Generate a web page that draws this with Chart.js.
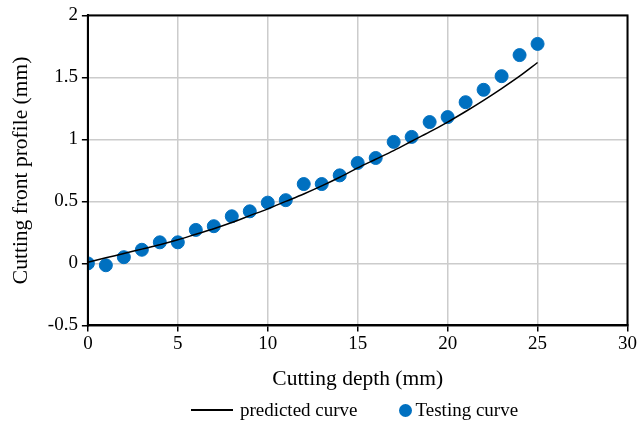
<!DOCTYPE html>
<html>
<head>
<meta charset="utf-8">
<script src="https://cdn.jsdelivr.net/npm/chart.js@4"></script>
<style>
  html, body { margin: 0; padding: 0; background: #fff; }
  #wrap { position: relative; width: 638px; height: 427px; }
  #legend {
    position: absolute; left: 88px; right: 17px; top: 399px;
    display: flex; justify-content: center; align-items: center;
    font-family: 'Liberation Serif', 'Times New Roman', serif; font-size: 19px; color: #000;
  }
  .item { display: flex; align-items: center; }
  .line { width: 42px; height: 2px; background: #000; margin-right: 7px; }
  .dot { width: 13px; height: 13px; border-radius: 50%; background: #0070C0; margin: 0 4px 0 41px; }
</style>
</head>
<body>
<div id="wrap"><canvas id="c"></canvas><div id="legend"></div></div>
<script>
const depth = [0, 1, 2, 3, 4, 5, 6, 7, 8, 9, 10, 11, 12, 13, 14, 15, 16, 17, 18, 19, 20, 21, 22, 23, 24, 25];
const testing = [0, -0.015, 0.05, 0.11, 0.17, 0.17, 0.27, 0.30, 0.38, 0.42, 0.49, 0.51, 0.64, 0.64, 0.71,
  0.81, 0.85, 0.98, 1.02, 1.14, 1.18, 1.30, 1.40, 1.51, 1.68, 1.77];
const predicted = [0.01, 0.045, 0.08, 0.115, 0.15, 0.19, 0.235, 0.28, 0.33, 0.385, 0.44, 0.50, 0.56, 0.625,
  0.695, 0.77, 0.84, 0.91, 0.985, 1.06, 1.14, 1.225, 1.315, 1.41, 1.51, 1.62];

const font = 'Liberation Serif, Times New Roman, serif';

// box round the plot area (top and right edges too)
const frame = {
  id: 'frame',
  afterDraw(chart) {
    const { ctx, chartArea: a } = chart;
    ctx.save();
    ctx.strokeStyle = '#000';
    ctx.lineWidth = 2;
    ctx.strokeRect(a.left, a.top, a.right - a.left, a.bottom - a.top);
    ctx.restore();
  }
};

const chart = new Chart(document.getElementById('c'), {
  type: 'scatter',
  plugins: [frame],
  data: {
    datasets: [
      {
        label: 'predicted curve',
        type: 'line',
        data: depth.map((x, i) => ({ x, y: predicted[i] })),
        borderColor: '#000',
        backgroundColor: '#000',
        borderWidth: 1.5,
        pointRadius: 0,
        cubicInterpolationMode: 'monotone',
        fill: false
      },
      {
        label: 'Testing curve',
        data: depth.map((x, i) => ({ x, y: testing[i] })),
        backgroundColor: '#0070C0',
        borderColor: '#0070C0',
        pointRadius: 6.5,
        pointHoverRadius: 6.5
      }
    ]
  },
  options: {
    responsive: true,
    maintainAspectRatio: false,
    animation: false,
    layout: { padding: { top: 6, right: 0, left: 8, bottom: 35 } },
    plugins: {
      tooltip: { enabled: false },
      legend: { display: false }
    },
    scales: {
      x: {
        type: 'linear',
        min: 0, max: 30,
        ticks: { stepSize: 5, color: '#000', font: { family: font, size: 19 }, padding: 1 },
        grid: { color: '#cccccc', lineWidth: 1.5, tickColor: '#000', tickLength: 6 },
        border: { color: '#000', width: 2 },
        title: { display: true, text: 'Cutting depth (mm)', color: '#000', font: { family: font, size: 21.5 }, padding: { top: 10, bottom: 0 } }
      },
      y: {
        min: -0.5, max: 2,
        ticks: { stepSize: 0.5, color: '#000', font: { family: font, size: 19 }, padding: 4, callback: v => String(v) },
        grid: { color: '#cccccc', lineWidth: 1.5, tickColor: '#000', tickLength: 6 },
        border: { color: '#000', width: 2 },
        title: { display: true, text: 'Cutting front profile (mm)', color: '#000', font: { family: font, size: 21.5 }, padding: { top: 0, bottom: 10 } }
      }
    }
  }
});

// legend built from the dataset labels
const legend = document.getElementById('legend');
chart.data.datasets.forEach((ds, i) => {
  const item = document.createElement('div');
  item.className = 'item';
  const mark = document.createElement('span');
  mark.className = i === 0 ? 'line' : 'dot';
  const text = document.createElement('span');
  text.textContent = ds.label;
  item.append(mark, text);
  legend.append(item);
});
</script>
</body>
</html>
